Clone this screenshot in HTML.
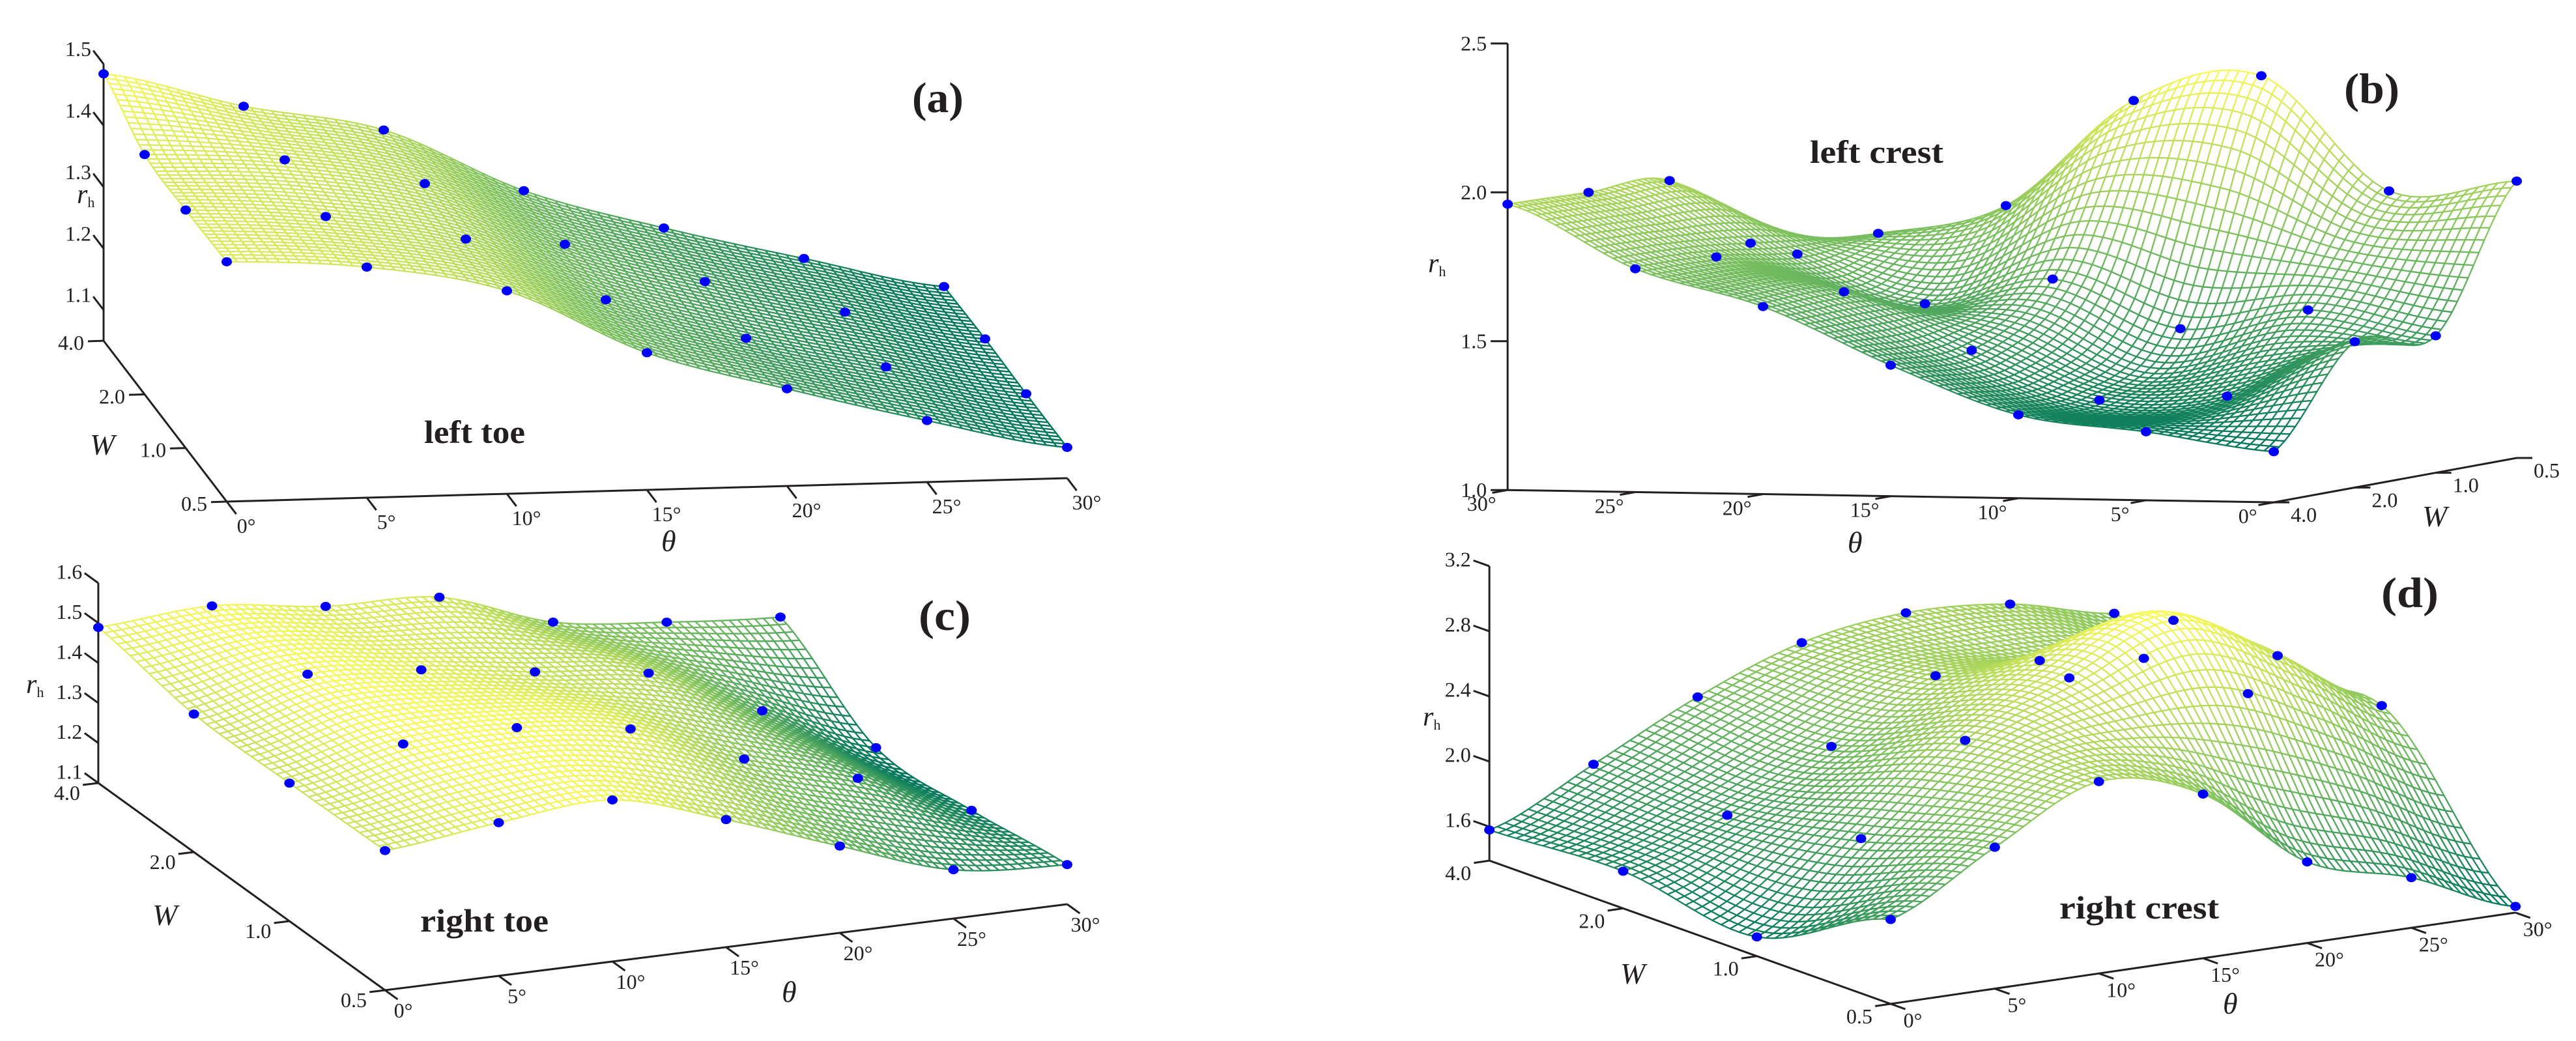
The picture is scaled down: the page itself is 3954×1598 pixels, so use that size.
<!DOCTYPE html>
<html><head><meta charset="utf-8"><title>rh surfaces</title>
<style>
html,body{margin:0;padding:0;background:#fff;}
svg{display:block;font-family:"Liberation Serif",serif;}
</style></head>
<body>
<svg id="fig" width="3954" height="1598" viewBox="0 0 3954 1598" xmlns="http://www.w3.org/2000/svg">
<rect x="0" y="0" width="3954" height="1598" fill="#fff"/>
<g id="pa"></g>
<g id="pb"></g>
<g id="pc"></g>
<g id="pd"></g>
<g fill="#231f20">
<text x="1400" y="172" font-size="66" font-weight="bold" textLength="79" lengthAdjust="spacingAndGlyphs">(a)</text>
<text x="651" y="680" font-size="50" font-weight="bold" textLength="155" lengthAdjust="spacingAndGlyphs">left toe</text>
<text x="1015" y="846" font-size="46" font-style="italic">θ</text>
<text x="138" y="698" font-size="46" font-style="italic">W</text>
<text x="118" y="312" font-size="42" font-style="italic">r<tspan font-size="22" font-style="normal" dy="6">h</tspan></text>

<text x="3598" y="158" font-size="66" font-weight="bold" textLength="85" lengthAdjust="spacingAndGlyphs">(b)</text>
<text x="2778" y="250" font-size="50" font-weight="bold" textLength="205" lengthAdjust="spacingAndGlyphs">left crest</text>
<text x="2836" y="848" font-size="46" font-style="italic">θ</text>
<text x="3718" y="808" font-size="46" font-style="italic">W</text>
<text x="2192" y="418" font-size="42" font-style="italic">r<tspan font-size="22" font-style="normal" dy="6">h</tspan></text>

<text x="1410" y="967" font-size="66" font-weight="bold" textLength="80" lengthAdjust="spacingAndGlyphs">(c)</text>
<text x="645" y="1430" font-size="50" font-weight="bold" textLength="197" lengthAdjust="spacingAndGlyphs">right toe</text>
<text x="1200" y="1538" font-size="46" font-style="italic">θ</text>
<text x="234" y="1420" font-size="46" font-style="italic">W</text>
<text x="40" y="1064" font-size="42" font-style="italic">r<tspan font-size="22" font-style="normal" dy="6">h</tspan></text>

<text x="3655" y="932" font-size="66" font-weight="bold" textLength="88" lengthAdjust="spacingAndGlyphs">(d)</text>
<text x="3161" y="1410" font-size="50" font-weight="bold" textLength="245" lengthAdjust="spacingAndGlyphs">right crest</text>
<text x="3412" y="1556" font-size="46" font-style="italic">θ</text>
<text x="2487" y="1510" font-size="46" font-style="italic">W</text>
<text x="2184" y="1114" font-size="42" font-style="italic">r<tspan font-size="22" font-style="normal" dy="6">h</tspan></text>
</g>
</svg>
<script>
// ---- data (rows: W = 0.5, 1.0, 2.0, 4.0; columns: theta 0..30) ----
const thetaCats = [0, 5, 10, 15, 20, 25, 30];
const wCats = [0.5, 1.0, 2.0, 4.0];
const thetaTickLabels = ["0°", "5°", "10°", "15°", "20°", "25°", "30°"];
const wTickLabels = ["0.5", "1.0", "2.0", "4.0"];

const aW05 = [1.44, 1.425, 1.38, 1.273, 1.208, 1.15, 1.10];
const aW1  = [1.437, 1.42, 1.377, 1.272, 1.203, 1.15, 1.10];
const aW2  = [1.44, 1.425, 1.38, 1.275, 1.208, 1.152, 1.102];
const aW4  = [1.484, 1.425, 1.38, 1.275, 1.208, 1.152, 1.10];
const aZTicks = [1.1, 1.2, 1.3, 1.4, 1.5];

const bW05 = [1.93, 1.89, 2.27, 2.18, 1.82, 1.72, 1.68];
const bW1  = [1.46, 1.54, 1.47, 1.63, 1.54, 1.70, 1.94];
const bW2  = [1.49, 1.30, 1.28, 1.44, 1.63, 1.74, 1.95];
const bW4  = [1.17, 1.23, 1.28, 1.44, 1.63, 1.75, 1.96];
const bZTicks = [1.0, 1.5, 2.0, 2.5];

const cW05 = [1.449, 1.483, 1.504, 1.419, 1.317, 1.222, 1.199];
const cW1  = [1.445, 1.507, 1.512, 1.473, 1.362, 1.278, 1.162];
const cW2  = [1.445, 1.509, 1.484, 1.443, 1.404, 1.274, 1.146];
const cW4  = [1.489, 1.507, 1.47, 1.457, 1.359, 1.323, 1.30];
const cZTicks = [1.1, 1.2, 1.3, 1.4, 1.5, 1.6];

const dW05 = [1.91, 2.26, 2.57, 2.40, 1.89, 1.70, 1.43];
const dW1  = [1.51, 2.02, 2.53, 2.82, 3.08, 2.77, 2.37];
const dW2  = [1.62, 1.87, 2.20, 2.54, 2.54, 2.46, 2.15];
const dW4  = [1.58, 1.89, 2.21, 2.45, 2.54, 2.50, 2.35];
const dZTicks = [1.6, 2.0, 2.4, 2.8, 3.2];

const NS = "http://www.w3.org/2000/svg";
function mk(parent, tag, attrs, txt) {
  const e = document.createElementNS(NS, tag);
  for (const k in attrs) e.setAttribute(k, attrs[k]);
  if (txt !== undefined) e.textContent = txt;
  parent.appendChild(e);
  return e;
}
function cr(p, t) {
  const n = p.length;
  let i = Math.floor(t); if (i > n - 2) i = n - 2; if (i < 0) i = 0;
  const f = t - i;
  const p0 = p[Math.max(i - 1, 0)], p1 = p[i], p2 = p[i + 1], p3 = p[Math.min(i + 2, n - 1)];
  return 0.5 * (2 * p1 + (-p0 + p2) * f + (2 * p0 - 5 * p1 + 4 * p2 - p3) * f * f + (-p0 + 3 * p1 - 3 * p2 + p3) * f * f * f);
}
function surf(grid, u, v) {
  const col = grid.map(row => cr(row, u));
  return cr(col, v);
}
const stops = [[0,118,92],[120,190,95],[248,248,90]];
function cmap(t) {
  t = Math.max(0, Math.min(1, t));
  const s = t < 0.5 ? 0 : 1, f = t < 0.5 ? t / 0.5 : (t - 0.5) / 0.5;
  const a = stops[s], b = stops[s + 1];
  return "rgb(" + a.map((x, i) => Math.round(x + (b[i] - x) * f)).join(",") + ")";
}

function drawPanel(cfg) {
  const g = document.getElementById(cfg.id);
  const grid = cfg.grid;
  const thMax = thetaCats[thetaCats.length - 1];
  const base = (th, k) => [cfg.P[0] + th * cfg.vt[0] + k * cfg.vk[0], cfg.P[1] + th * cfg.vt[1] + k * cfg.vk[1]];
  const proj = (th, k, r) => { const b = base(th, k); return [b[0], b[1] - (r - cfg.r0) * cfg.s]; };
  const axG = mk(g, "g", {stroke: "#231f20", "stroke-width": 3, fill: "none"});
  
  
  const zb = base(cfg.zTh, cfg.zK);
  const zTop = cfg.zTicks[cfg.zTicks.length - 1];
  const zl = mk(axG, "line", {x1: zb[0], y1: zb[1], x2: zb[0], y2: zb[1] - (zTop - cfg.r0) * cfg.s});
  
  
  const w0 = base(cfg.wTh, 0), w3 = base(cfg.wTh, 3);
  const wl = mk(axG, "line", {x1: w0[0], y1: w0[1], x2: w3[0], y2: w3[1]});
  
  
  const t0 = base(0, cfg.tK), t1 = base(thMax, cfg.tK);
  const tl = mk(axG, "line", {x1: t0[0], y1: t0[1], x2: t1[0], y2: t1[1]});
  
  
  const txG = mk(g, "g", {fill: "#231f20", "font-size": 32});
  
  
  cfg.zTicks.forEach(v => {
    const p = [zb[0], zb[1] - (v - cfg.r0) * cfg.s];
    const d = cfg.zDir;
    const tk = mk(axG, "line", {x1: p[0], y1: p[1], x2: p[0] + d[0] * 26, y2: p[1] + d[1] * 26});
    
    
    const lb = mk(txG, "text", {x: p[0] + d[0] * 28 + cfg.zLab[0], y: p[1] + d[1] * 28 + cfg.zLab[1], "text-anchor": "end"}, v.toFixed(1));
    
    
  });
  const wd = cfg.wDir;
  wCats.forEach((w, k) => {
    const p = base(cfg.wTh, k);
    const tk = mk(axG, "line", {x1: p[0], y1: p[1], x2: p[0] + wd[0] * 24, y2: p[1] + wd[1] * 24});
    
    
    const lb = mk(txG, "text", {x: p[0] + cfg.wLab[0], y: p[1] + cfg.wLab[1], "text-anchor": cfg.wAnchor}, wTickLabels[k]);
    
    
  });
  const td = cfg.tDir;
  thetaCats.forEach((th, i) => {
    const p = base(th, cfg.tK);
    const tk = mk(axG, "line", {x1: p[0], y1: p[1], x2: p[0] + td[0] * 24, y2: p[1] + td[1] * 24});
    
    
    const lb = mk(txG, "text", {x: p[0] + cfg.tLab[0], y: p[1] + cfg.tLab[1], "text-anchor": "middle"}, thetaTickLabels[i]);
    
    
  });
  const all = [].concat(...grid);
  const rmin = Math.min(...all), rmax = Math.max(...all);
  const NU = 80, NV = 45, uMax = thetaCats.length - 1, vMax = wCats.length - 1;
  const R = [];
  for (let i = 0; i <= NU; i++) {
    R.push([]);
    for (let j = 0; j <= NV; j++) R[i].push(surf(grid, i / NU * uMax, j / NV * vMax));
  }
  const quads = [];
  for (let i = 0; i < NU; i++) for (let j = 0; j < NV; j++) {
    const thc = (i + 0.5) / NU * thMax, kc = (j + 0.5) / NV * vMax;
    quads.push({i, j, depth: base(thc, kc)[1]});
  }
  quads.sort((a, b) => a.depth - b.depth);
  const sg = mk(g, "g", {fill: "#fff", "stroke-width": 2.3, "stroke-linejoin": "round"});
  
  
  quads.forEach(q => {
    const pts = [[q.i, q.j], [q.i + 1, q.j], [q.i + 1, q.j + 1], [q.i, q.j + 1]].map(([a, b]) =>
      proj(a / NU * thMax, b / NV * vMax, R[a][b]));
    const rm = (R[q.i][q.j] + R[q.i + 1][q.j] + R[q.i + 1][q.j + 1] + R[q.i][q.j + 1]) / 4;
    const pg = mk(sg, "polygon", {points: pts.map(p => p[0].toFixed(1) + "," + p[1].toFixed(1)).join(" "), stroke: cmap((rm - rmin) / (rmax - rmin))});
    
    
  });
  const dg = mk(g, "g", {fill: "#0000ff"});
  
  
  grid.forEach((row, k) => row.forEach((r, i) => {
    const p = proj(thetaCats[i], k, r);
    const c = mk(dg, "ellipse", {cx: p[0], cy: p[1], rx: 8, ry: 7});
    
    
  }));
}

function u(v){const l=Math.hypot(v[0],v[1]);return [v[0]/l,v[1]/l];}
const vkA=[-63,-82.3], vkB=[-124.3,22.7], vkC=[-146.7,-106], vkD=[-205.3,-73.3];
drawPanel({id:"pa", grid:[aW05,aW1,aW2,aW4], zTicks:aZTicks, P:[348,770], vt:[43,-1.2], vk:vkA, r0:1.05, s:944,
  zTh:0, zK:3, zDir:u(vkA), zLab:[-2,10], wTh:0, wDir:[-1,0.03], wLab:[-30,14], wAnchor:"end",
  tK:0, tDir:u([-vkA[0],-vkA[1]]), tLab:[30,48]});
drawPanel({id:"pb", grid:[bW05,bW1,bW2,bW4], zTicks:bZTicks, P:[3863,703], vt:[-39.2,-0.63], vk:vkB, r0:1.0, s:457,
  zTh:30, zK:3, zDir:[-1,0], zLab:[-4,11], wTh:0, wDir:[1,0], wLab:[26,30], wAnchor:"start",
  tK:3, tDir:u(vkB), tLab:[-40,32]});
drawPanel({id:"pc", grid:[cW05,cW1,cW2,cW4], zTicks:cZTicks, P:[591,1520], vt:[34.9,-4.4], vk:vkC, r0:1.1, s:614,
  zTh:0, zK:3, zDir:u(vkC), zLab:[-2,10], wTh:0, wDir:[-0.99,0.12], wLab:[-28,26], wAnchor:"end",
  tK:0, tDir:u([-vkC[0],-vkC[1]]), tLab:[28,42]});
drawPanel({id:"pd", grid:[dW05,dW1,dW2,dW4], zTicks:dZTicks, P:[2902,1541], vt:[31.97,-4.67], vk:vkD, r0:1.392, s:250,
  zTh:0, zK:3, zDir:u(vkD), zLab:[-2,10], wTh:0, wDir:[-0.99,0.145], wLab:[-28,30], wAnchor:"end",
  tK:0, tDir:u([-vkD[0],-vkD[1]]), tLab:[34,36]});
</script>
</body></html>
